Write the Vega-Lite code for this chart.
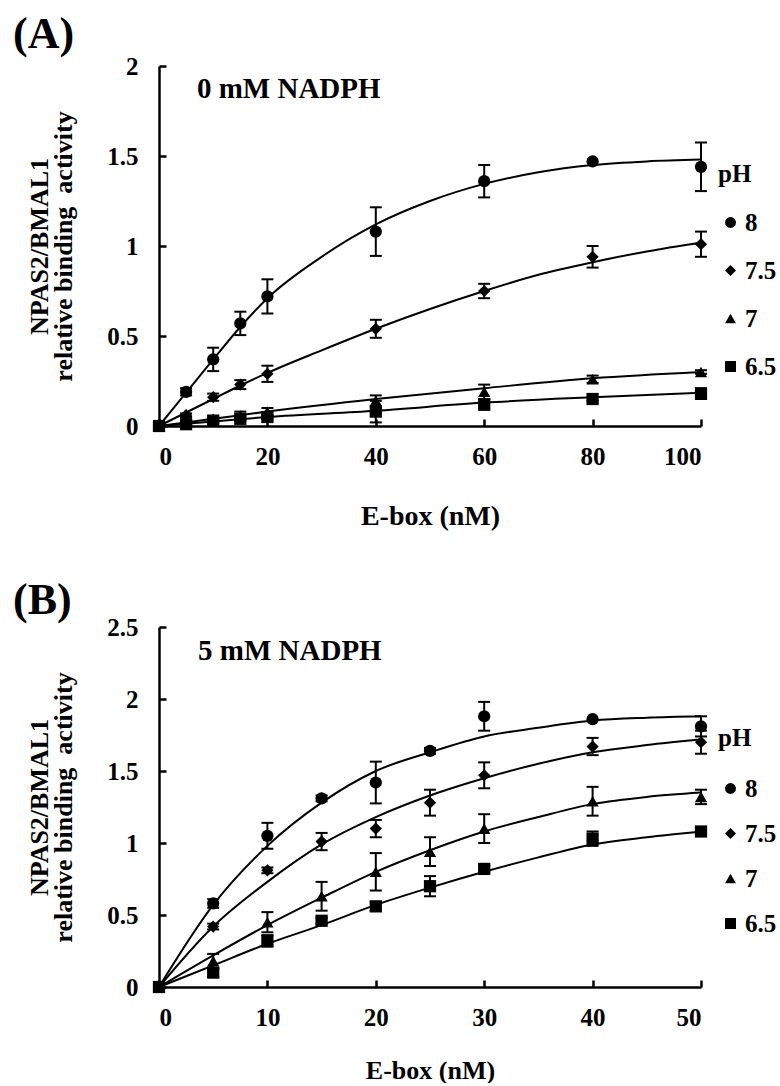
{
  "$schema": "https://vega.github.io/schema/vega-lite/v6.json",
  "background": "white",
  "padding": {"left": 13, "top": 13, "right": 2, "bottom": 0},
  "config": {
    "font": "Liberation Serif, Times New Roman, serif",
    "view": {"stroke": null},
    "axis": {
      "grid": false,
      "domainColor": "black",
      "domainWidth": 2.5,
      "tickColor": "black",
      "tickWidth": 2.5,
      "tickSize": -7,
      "labelFont": "Liberation Serif, Times New Roman, serif",
      "labelFontWeight": "bold",
      "labelFontSize": 25,
      "labelColor": "black",
      "titleFont": "Liberation Serif, Times New Roman, serif",
      "titleFontWeight": "bold",
      "titleColor": "black"
    },
    "legend": {
      "titleFont": "Liberation Serif, Times New Roman, serif",
      "labelFont": "Liberation Serif, Times New Roman, serif"
    }
  },
  "datasets": {
    "ptsA": [
      {"ebox": 0, "act": 0, "err": 0, "pH": "8"},
      {"ebox": 5, "act": 0.19, "err": 0.02, "pH": "8"},
      {"ebox": 10, "act": 0.37, "err": 0.065, "pH": "8"},
      {"ebox": 15, "act": 0.57, "err": 0.065, "pH": "8"},
      {"ebox": 20, "act": 0.72, "err": 0.095, "pH": "8"},
      {"ebox": 40, "act": 1.08, "err": 0.135, "pH": "8"},
      {"ebox": 60, "act": 1.36, "err": 0.09, "pH": "8"},
      {"ebox": 80, "act": 1.47, "err": 0, "pH": "8"},
      {"ebox": 100, "act": 1.44, "err": 0.135, "pH": "8"},
      {"ebox": 0, "act": 0, "err": 0, "pH": "7.5"},
      {"ebox": 5, "act": 0.06, "err": 0.01, "pH": "7.5"},
      {"ebox": 10, "act": 0.16, "err": 0.02, "pH": "7.5"},
      {"ebox": 15, "act": 0.23, "err": 0.025, "pH": "7.5"},
      {"ebox": 20, "act": 0.29, "err": 0.045, "pH": "7.5"},
      {"ebox": 40, "act": 0.54, "err": 0.05, "pH": "7.5"},
      {"ebox": 60, "act": 0.75, "err": 0.04, "pH": "7.5"},
      {"ebox": 80, "act": 0.94, "err": 0.06, "pH": "7.5"},
      {"ebox": 100, "act": 1.01, "err": 0.07, "pH": "7.5"},
      {"ebox": 0, "act": 0, "err": 0, "pH": "7"},
      {"ebox": 5, "act": 0.02, "err": 0.01, "pH": "7"},
      {"ebox": 10, "act": 0.04, "err": 0.01, "pH": "7"},
      {"ebox": 15, "act": 0.06, "err": 0.02, "pH": "7"},
      {"ebox": 20, "act": 0.08, "err": 0.02, "pH": "7"},
      {"ebox": 40, "act": 0.14, "err": 0.03, "pH": "7"},
      {"ebox": 60, "act": 0.19, "err": 0.04, "pH": "7"},
      {"ebox": 80, "act": 0.26, "err": 0.02, "pH": "7"},
      {"ebox": 100, "act": 0.3, "err": 0.01, "pH": "7"},
      {"ebox": 0, "act": 0, "err": 0, "pH": "6.5"},
      {"ebox": 5, "act": 0.01, "err": 0.01, "pH": "6.5"},
      {"ebox": 10, "act": 0.03, "err": 0.01, "pH": "6.5"},
      {"ebox": 15, "act": 0.04, "err": 0.01, "pH": "6.5"},
      {"ebox": 20, "act": 0.05, "err": 0.01, "pH": "6.5"},
      {"ebox": 40, "act": 0.08, "err": 0.06, "pH": "6.5"},
      {"ebox": 60, "act": 0.12, "err": 0.03, "pH": "6.5"},
      {"ebox": 80, "act": 0.15, "err": 0.01, "pH": "6.5"},
      {"ebox": 100, "act": 0.18, "err": 0.03, "pH": "6.5"}
    ],
    "curveA": [
      {"ebox": 0, "act": 0, "pH": "8"},
      {"ebox": 5, "act": 0.185, "pH": "8"},
      {"ebox": 10, "act": 0.37, "pH": "8"},
      {"ebox": 15, "act": 0.55, "pH": "8"},
      {"ebox": 20, "act": 0.71, "pH": "8"},
      {"ebox": 30, "act": 0.94, "pH": "8"},
      {"ebox": 40, "act": 1.12, "pH": "8"},
      {"ebox": 50, "act": 1.25, "pH": "8"},
      {"ebox": 60, "act": 1.345, "pH": "8"},
      {"ebox": 70, "act": 1.41, "pH": "8"},
      {"ebox": 80, "act": 1.45, "pH": "8"},
      {"ebox": 90, "act": 1.47, "pH": "8"},
      {"ebox": 100, "act": 1.48, "pH": "8"},
      {"ebox": 0, "act": 0, "pH": "7.5"},
      {"ebox": 5, "act": 0.075, "pH": "7.5"},
      {"ebox": 10, "act": 0.15, "pH": "7.5"},
      {"ebox": 15, "act": 0.225, "pH": "7.5"},
      {"ebox": 20, "act": 0.295, "pH": "7.5"},
      {"ebox": 30, "act": 0.42, "pH": "7.5"},
      {"ebox": 40, "act": 0.54, "pH": "7.5"},
      {"ebox": 50, "act": 0.65, "pH": "7.5"},
      {"ebox": 60, "act": 0.75, "pH": "7.5"},
      {"ebox": 70, "act": 0.84, "pH": "7.5"},
      {"ebox": 80, "act": 0.91, "pH": "7.5"},
      {"ebox": 90, "act": 0.97, "pH": "7.5"},
      {"ebox": 100, "act": 1.02, "pH": "7.5"},
      {"ebox": 0, "act": 0, "pH": "7"},
      {"ebox": 10, "act": 0.04, "pH": "7"},
      {"ebox": 20, "act": 0.08, "pH": "7"},
      {"ebox": 40, "act": 0.15, "pH": "7"},
      {"ebox": 60, "act": 0.21, "pH": "7"},
      {"ebox": 80, "act": 0.265, "pH": "7"},
      {"ebox": 100, "act": 0.3, "pH": "7"},
      {"ebox": 0, "act": 0, "pH": "6.5"},
      {"ebox": 10, "act": 0.025, "pH": "6.5"},
      {"ebox": 20, "act": 0.05, "pH": "6.5"},
      {"ebox": 40, "act": 0.085, "pH": "6.5"},
      {"ebox": 60, "act": 0.13, "pH": "6.5"},
      {"ebox": 80, "act": 0.16, "pH": "6.5"},
      {"ebox": 100, "act": 0.185, "pH": "6.5"}
    ],
    "ptsB": [
      {"ebox": 0, "act": 0, "err": 0, "pH": "8"},
      {"ebox": 5, "act": 0.58, "err": 0.03, "pH": "8"},
      {"ebox": 10, "act": 1.05, "err": 0.09, "pH": "8"},
      {"ebox": 15, "act": 1.31, "err": 0.02, "pH": "8"},
      {"ebox": 20, "act": 1.42, "err": 0.145, "pH": "8"},
      {"ebox": 25, "act": 1.64, "err": 0.02, "pH": "8"},
      {"ebox": 30, "act": 1.88, "err": 0.1, "pH": "8"},
      {"ebox": 40, "act": 1.86, "err": 0, "pH": "8"},
      {"ebox": 50, "act": 1.81, "err": 0.07, "pH": "8"},
      {"ebox": 0, "act": 0, "err": 0, "pH": "7.5"},
      {"ebox": 5, "act": 0.42, "err": 0.02, "pH": "7.5"},
      {"ebox": 10, "act": 0.81, "err": 0.02, "pH": "7.5"},
      {"ebox": 15, "act": 1.01, "err": 0.06, "pH": "7.5"},
      {"ebox": 20, "act": 1.1, "err": 0.06, "pH": "7.5"},
      {"ebox": 25, "act": 1.28, "err": 0.09, "pH": "7.5"},
      {"ebox": 30, "act": 1.47, "err": 0.09, "pH": "7.5"},
      {"ebox": 40, "act": 1.67, "err": 0.06, "pH": "7.5"},
      {"ebox": 50, "act": 1.7, "err": 0.08, "pH": "7.5"},
      {"ebox": 0, "act": 0, "err": 0, "pH": "7"},
      {"ebox": 5, "act": 0.18, "err": 0.05, "pH": "7"},
      {"ebox": 10, "act": 0.45, "err": 0.07, "pH": "7"},
      {"ebox": 15, "act": 0.63, "err": 0.1, "pH": "7"},
      {"ebox": 20, "act": 0.8, "err": 0.13, "pH": "7"},
      {"ebox": 25, "act": 0.94, "err": 0.1, "pH": "7"},
      {"ebox": 30, "act": 1.1, "err": 0.1, "pH": "7"},
      {"ebox": 40, "act": 1.29, "err": 0.1, "pH": "7"},
      {"ebox": 50, "act": 1.32, "err": 0.05, "pH": "7"},
      {"ebox": 0, "act": 0, "err": 0, "pH": "6.5"},
      {"ebox": 5, "act": 0.1, "err": 0.03, "pH": "6.5"},
      {"ebox": 10, "act": 0.32, "err": 0.04, "pH": "6.5"},
      {"ebox": 15, "act": 0.46, "err": 0.02, "pH": "6.5"},
      {"ebox": 20, "act": 0.56, "err": 0.03, "pH": "6.5"},
      {"ebox": 25, "act": 0.7, "err": 0.07, "pH": "6.5"},
      {"ebox": 30, "act": 0.82, "err": 0.02, "pH": "6.5"},
      {"ebox": 40, "act": 1.03, "err": 0.05, "pH": "6.5"},
      {"ebox": 50, "act": 1.08, "err": 0.02, "pH": "6.5"}
    ],
    "curveB": [
      {"ebox": 0, "act": 0, "pH": "8"},
      {"ebox": 5, "act": 0.57, "pH": "8"},
      {"ebox": 10, "act": 0.98, "pH": "8"},
      {"ebox": 15, "act": 1.28, "pH": "8"},
      {"ebox": 20, "act": 1.5, "pH": "8"},
      {"ebox": 25, "act": 1.63, "pH": "8"},
      {"ebox": 30, "act": 1.74, "pH": "8"},
      {"ebox": 35, "act": 1.8, "pH": "8"},
      {"ebox": 40, "act": 1.85, "pH": "8"},
      {"ebox": 45, "act": 1.87, "pH": "8"},
      {"ebox": 50, "act": 1.88, "pH": "8"},
      {"ebox": 0, "act": 0, "pH": "7.5"},
      {"ebox": 5, "act": 0.42, "pH": "7.5"},
      {"ebox": 10, "act": 0.73, "pH": "7.5"},
      {"ebox": 15, "act": 0.99, "pH": "7.5"},
      {"ebox": 20, "act": 1.18, "pH": "7.5"},
      {"ebox": 25, "act": 1.33, "pH": "7.5"},
      {"ebox": 30, "act": 1.45, "pH": "7.5"},
      {"ebox": 35, "act": 1.55, "pH": "7.5"},
      {"ebox": 40, "act": 1.63, "pH": "7.5"},
      {"ebox": 45, "act": 1.68, "pH": "7.5"},
      {"ebox": 50, "act": 1.72, "pH": "7.5"},
      {"ebox": 0, "act": 0, "pH": "7"},
      {"ebox": 5, "act": 0.22, "pH": "7"},
      {"ebox": 10, "act": 0.43, "pH": "7"},
      {"ebox": 15, "act": 0.62, "pH": "7"},
      {"ebox": 20, "act": 0.8, "pH": "7"},
      {"ebox": 25, "act": 0.95, "pH": "7"},
      {"ebox": 30, "act": 1.08, "pH": "7"},
      {"ebox": 35, "act": 1.18, "pH": "7"},
      {"ebox": 40, "act": 1.27, "pH": "7"},
      {"ebox": 45, "act": 1.32, "pH": "7"},
      {"ebox": 50, "act": 1.35, "pH": "7"},
      {"ebox": 0, "act": 0, "pH": "6.5"},
      {"ebox": 5, "act": 0.15, "pH": "6.5"},
      {"ebox": 10, "act": 0.3, "pH": "6.5"},
      {"ebox": 15, "act": 0.43, "pH": "6.5"},
      {"ebox": 20, "act": 0.57, "pH": "6.5"},
      {"ebox": 25, "act": 0.69, "pH": "6.5"},
      {"ebox": 30, "act": 0.8, "pH": "6.5"},
      {"ebox": 35, "act": 0.9, "pH": "6.5"},
      {"ebox": 40, "act": 0.99, "pH": "6.5"},
      {"ebox": 45, "act": 1.04, "pH": "6.5"},
      {"ebox": 50, "act": 1.08, "pH": "6.5"}
    ]
  },
  "resolve": {
    "scale": {"x": "independent", "y": "independent", "shape": "independent"},
    "legend": {"shape": "independent"}
  },
  "bounds": "flush",
  "spacing": 201,
  "vconcat": [
    {
      "width": 542,
      "height": 360,
      "title": {"text": "(A)", "anchor": "start", "frame": "group", "dx": -146, "offset": -38, "baseline": "alphabetic", "fontSize": 44, "font": "Liberation Serif, Times New Roman, serif", "fontWeight": "bold", "color": "black"},
      "layer": [
        {
          "data": {"name": "ptsA"},
          "transform": [{"filter": "datum.err > 0"}],
          "mark": {"type": "errorbar", "ticks": {"size": 12, "thickness": 2, "color": "black", "opacity": 1}, "rule": {"color": "black", "strokeWidth": 2, "opacity": 1}, "thickness": 2, "color": "black"},
          "encoding": {
            "x": {"field": "ebox", "type": "quantitative", "scale": {"domain": [0, 100], "nice": false},
              "axis": {"values": [0, 20, 40, 60, 80, 100], "title": "E-box (nM)", "titleFontSize": 28, "labelPadding": 25, "titlePadding": 33}},
            "y": {"field": "act", "type": "quantitative", "scale": {"domain": [0, 2], "nice": false},
              "axis": {"values": [0, 0.5, 1, 1.5, 2], "format": "~g", "title": ["NPAS2/BMAL1", "relative binding\u00a0 activity"], "titleFontSize": 26, "titleLineHeight": 24, "labelPadding": 28, "titlePadding": 30}},
            "yError": {"field": "err"}
          }
        },
        {
          "data": {"name": "curveA"},
          "mark": {"type": "line", "interpolate": "monotone", "color": "black", "strokeWidth": 2},
          "encoding": {
            "x": {"field": "ebox", "type": "quantitative"},
            "y": {"field": "act", "type": "quantitative"},
            "detail": {"field": "pH"}
          }
        },
        {
          "data": {"name": "ptsA"},
          "mark": {"type": "point", "filled": true, "color": "black", "opacity": 1, "size": 150},
          "encoding": {
            "x": {"field": "ebox", "type": "quantitative"},
            "y": {"field": "act", "type": "quantitative"},
            "shape": {"field": "pH", "type": "nominal", "scale": {"domain": ["8", "7.5", "7", "6.5"], "range": ["circle", "diamond", "triangle-up", "square"]},
              "legend": {"orient": "none", "legendX": 559, "legendY": 96, "title": "pH", "titleFontWeight": "bold", "labelFontWeight": "bold", "titleFontSize": 25, "labelFontSize": 25, "titleColor": "black", "labelColor": "black", "symbolSize": 120, "symbolFillColor": "black", "symbolStrokeColor": "black", "symbolStrokeWidth": 0, "labelOffset": 2, "padding": 0, "rowPadding": 22, "titlePadding": 23}}
          }
        },
        {
          "data": {"values": [{"note": "0 mM NADPH"}]},
          "mark": {"type": "text", "align": "left", "baseline": "alphabetic", "font": "Liberation Serif, Times New Roman, serif", "fontWeight": "bold", "fontSize": 29, "color": "black"},
          "encoding": {"x": {"datum": 7, "type": "quantitative"}, "y": {"datum": 1.82, "type": "quantitative"}, "text": {"field": "note", "type": "nominal"}}
        }
      ]
    },
    {
      "width": 542,
      "height": 360,
      "title": {"text": "(B)", "anchor": "start", "frame": "group", "dx": -146, "offset": -43, "baseline": "alphabetic", "fontSize": 44, "font": "Liberation Serif, Times New Roman, serif", "fontWeight": "bold", "color": "black"},
      "layer": [
        {
          "data": {"name": "ptsB"},
          "transform": [{"filter": "datum.err > 0"}],
          "mark": {"type": "errorbar", "ticks": {"size": 12, "thickness": 2, "color": "black", "opacity": 1}, "rule": {"color": "black", "strokeWidth": 2, "opacity": 1}, "thickness": 2, "color": "black"},
          "encoding": {
            "x": {"field": "ebox", "type": "quantitative", "scale": {"domain": [0, 50], "nice": false},
              "axis": {"values": [0, 10, 20, 30, 40, 50], "title": "E-box (nM)", "titleFontSize": 26, "labelPadding": 25, "titlePadding": 27}},
            "y": {"field": "act", "type": "quantitative", "scale": {"domain": [0, 2.5], "nice": false},
              "axis": {"values": [0, 0.5, 1, 1.5, 2, 2.5], "format": "~g", "title": ["NPAS2/BMAL1", "relative binding\u00a0 activity"], "titleFontSize": 26, "titleLineHeight": 24, "labelPadding": 28, "titlePadding": 30}},
            "yError": {"field": "err"}
          }
        },
        {
          "data": {"name": "curveB"},
          "mark": {"type": "line", "interpolate": "monotone", "color": "black", "strokeWidth": 2},
          "encoding": {
            "x": {"field": "ebox", "type": "quantitative"},
            "y": {"field": "act", "type": "quantitative"},
            "detail": {"field": "pH"}
          }
        },
        {
          "data": {"name": "ptsB"},
          "mark": {"type": "point", "filled": true, "color": "black", "opacity": 1, "size": 150},
          "encoding": {
            "x": {"field": "ebox", "type": "quantitative"},
            "y": {"field": "act", "type": "quantitative"},
            "shape": {"field": "pH", "type": "nominal", "scale": {"domain": ["8", "7.5", "7", "6.5"], "range": ["circle", "diamond", "triangle-up", "square"]},
              "legend": {"orient": "none", "legendX": 559, "legendY": 99, "title": "pH", "titleFontWeight": "bold", "labelFontWeight": "bold", "titleFontSize": 25, "labelFontSize": 25, "titleColor": "black", "labelColor": "black", "symbolSize": 120, "symbolFillColor": "black", "symbolStrokeColor": "black", "symbolStrokeWidth": 0, "labelOffset": 2, "padding": 0, "rowPadding": 19, "titlePadding": 25}}
          }
        },
        {
          "data": {"values": [{"note": "5 mM NADPH"}]},
          "mark": {"type": "text", "align": "left", "baseline": "alphabetic", "font": "Liberation Serif, Times New Roman, serif", "fontWeight": "bold", "fontSize": 29, "color": "black"},
          "encoding": {"x": {"datum": 3.6, "type": "quantitative"}, "y": {"datum": 2.27, "type": "quantitative"}, "text": {"field": "note", "type": "nominal"}}
        }
      ]
    }
  ]
}
